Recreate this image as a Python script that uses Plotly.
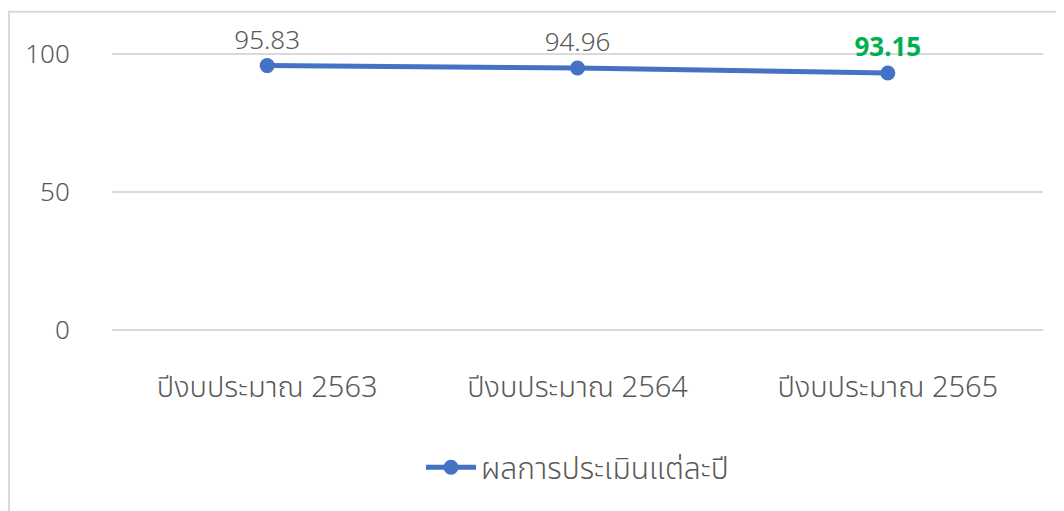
import plotly.graph_objects as go

# data
years = ['ปีงบประมาณ 2563', 'ปีงบประมาณ 2564', 'ปีงบประมาณ 2565']
scores = [95.83, 94.96, 93.15]
label_colors = ['#595959', '#595959', '#00B050']
series_name = 'ผลการประเมินแต่ละปี'

font_fam = 'Noto Sans, Noto Sans Thai, Loma, Garuda, sans-serif'

fig = go.Figure()
fig.add_trace(go.Scatter(
    x=years, y=scores, name=series_name,
    mode='lines+markers+text',
    line=dict(color='#4472C4', width=5),
    marker=dict(color='#4472C4', size=15),
    text=['%.2f' % v for v in scores],
    textposition='top center',
    textfont=dict(size=26, color=label_colors, family=font_fam,
                  weight=[300, 300, 'bold']),
    cliponaxis=False,
    showlegend=True,
))

# page body adds ~8px offset, so margins are shifted to compensate
fig.update_layout(
    width=1064, height=511,
    paper_bgcolor='white', plot_bgcolor='white',
    margin=dict(l=104, r=29, t=45, b=188, autoexpand=False),
    font=dict(family=font_fam, color='#595959', size=26, weight=300),
    showlegend=True,
    legend=dict(orientation='h', x=0.5, xanchor='center', y=-0.49, yanchor='middle',
                itemwidth=50,
                font=dict(size=30, color='#595959', weight=300)),
    shapes=[dict(type='rect', xref='paper', yref='paper',
                 x0=-0.1106, x1=1.4, y0=-1.0, y1=1.148,
                 line=dict(color='#D9D9D9', width=2), layer='below')],
)
fig.update_xaxes(range=[-0.5, 2.5], showgrid=False, showline=False, zeroline=False,
                 automargin=False,
                 ticks='outside', ticklen=30, tickcolor='rgba(0,0,0,0)',
                 tickfont=dict(size=29, color='#595959', weight=300))
fig.update_yaxes(range=[-0.4, 100.4], tickvals=[0, 50, 100], showgrid=True,
                 gridcolor='#D9D9D9', gridwidth=2, zeroline=False, showline=False,
                 automargin=False,
                 ticks='outside', ticklen=36, tickcolor='rgba(0,0,0,0)',
                 tickfont=dict(size=26, color='#595959', weight=300))

fig.write_html('out.html')
